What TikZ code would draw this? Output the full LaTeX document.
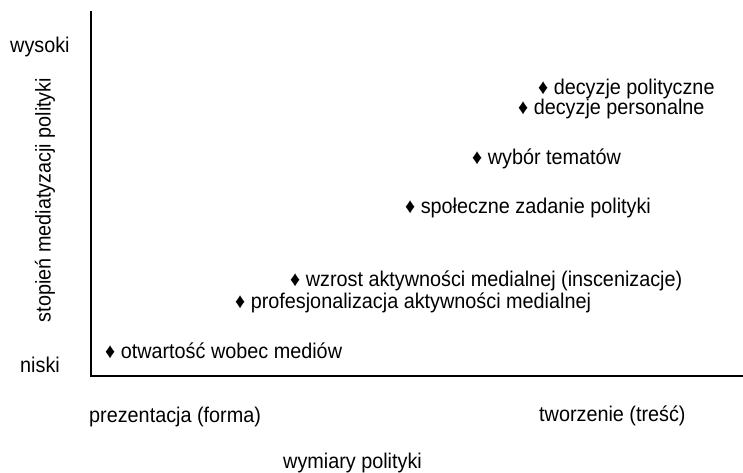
\documentclass[tikz,border=0pt]{standalone}
\usepackage{fontspec}
\setmainfont{Liberation Sans}[FakeStretch=0.93]
\begin{document}
\begin{tikzpicture}[x=1bp,y=-1bp,
  lbl/.style={inner sep=0pt,anchor=base west,font=\fontsize{21.3bp}{23bp}\selectfont},
  axis/.style={line width=1.8bp,line cap=rect}]
\useasboundingbox (0,0) rectangle (743,473);
\coordinate (top) at (91,12);
\coordinate (origin) at (91,376);
\coordinate (right) at (743,376);
\draw[axis] (top) -- (origin) -- (right);
\node[lbl] (hi) at (10,53) {wysoki};
\node[lbl] (lo) at (20,372) {niski};
\node[lbl,anchor=center,rotate=90] (yl) at (45,200) {stopień mediatyzacji polityki};
\node[lbl] (xl1) at (89,422) {prezentacja (forma)};
\node[lbl] (xl2) at (539,421) {tworzenie (treść)};
\node[lbl] (xl) at (283,468) {wymiary polityki};
\node[lbl] (p1) at (538,95) {♦ decyzje polityczne};
\node[lbl] (p2) at (518,115) {♦ decyzje personalne};
\node[lbl] (p3) at (472,165) {♦ wybór tematów};
\node[lbl] (p4) at (405,214) {♦ społeczne zadanie polityki};
\node[lbl] (p5) at (290,287) {♦ wzrost aktywności medialnej (inscenizacje)};
\node[lbl] (p6) at (235,309) {♦ profesjonalizacja aktywności medialnej};
\node[lbl] (p7) at (105,359) {♦ otwartość wobec mediów};
\end{tikzpicture}
\end{document}
